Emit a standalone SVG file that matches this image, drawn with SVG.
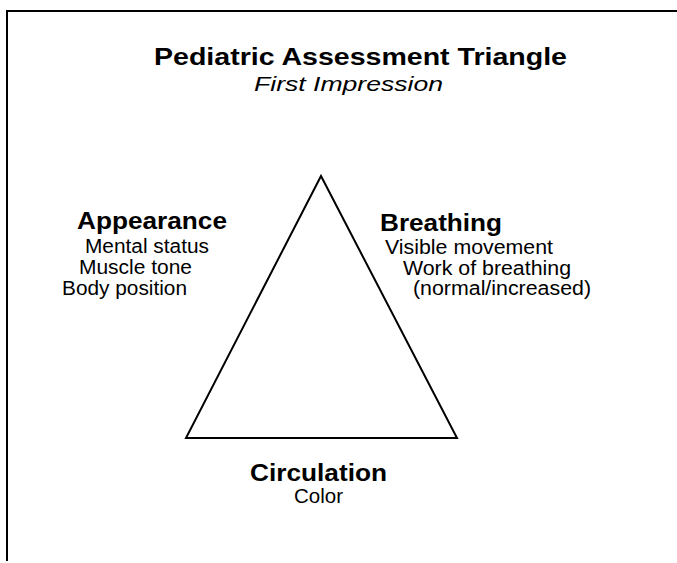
<svg xmlns="http://www.w3.org/2000/svg" width="677" height="563" viewBox="0 0 677 563">
<style>
text{font-family:"Liberation Sans",Arial,sans-serif;fill:#000}
.h{font-weight:bold;font-size:23px}
.s{font-size:20px}
.line{stroke:#000;stroke-width:2;fill:none}
</style>
<rect width="677" height="563" fill="#fff"/>
<g id="frame">
<path class="line" d="M7,561 V11 H677"/>
</g>
<g id="title">
<text class="h" x="154" y="65" textLength="413" lengthAdjust="spacingAndGlyphs">Pediatric Assessment Triangle</text>
<text class="s" x="254" y="91" font-style="italic" textLength="189" lengthAdjust="spacingAndGlyphs">First Impression</text>
</g>
<g id="connectors">
<polygon class="line" points="321,176 186,438 457,438"/>
</g>
<g id="appearance">
<text class="h" x="77" y="229" textLength="150" lengthAdjust="spacingAndGlyphs">Appearance</text>
<text class="s" x="85" y="253" textLength="124" lengthAdjust="spacingAndGlyphs">Mental status</text>
<text class="s" x="79" y="274" textLength="113" lengthAdjust="spacingAndGlyphs">Muscle tone</text>
<text class="s" x="62" y="295" textLength="125" lengthAdjust="spacingAndGlyphs">Body position</text>
</g>
<g id="breathing">
<text class="h" x="380" y="231" textLength="122" lengthAdjust="spacingAndGlyphs">Breathing</text>
<text class="s" x="385" y="254" textLength="168" lengthAdjust="spacingAndGlyphs">Visible movement</text>
<text class="s" x="403" y="275" textLength="168" lengthAdjust="spacingAndGlyphs">Work of breathing</text>
<text class="s" x="413" y="295" textLength="178" lengthAdjust="spacingAndGlyphs">(normal/increased)</text>
</g>
<g id="circulation">
<text class="h" x="250" y="481" textLength="137" lengthAdjust="spacingAndGlyphs">Circulation</text>
<text class="s" x="294" y="503" textLength="49" lengthAdjust="spacingAndGlyphs">Color</text>
</g>
</svg>
